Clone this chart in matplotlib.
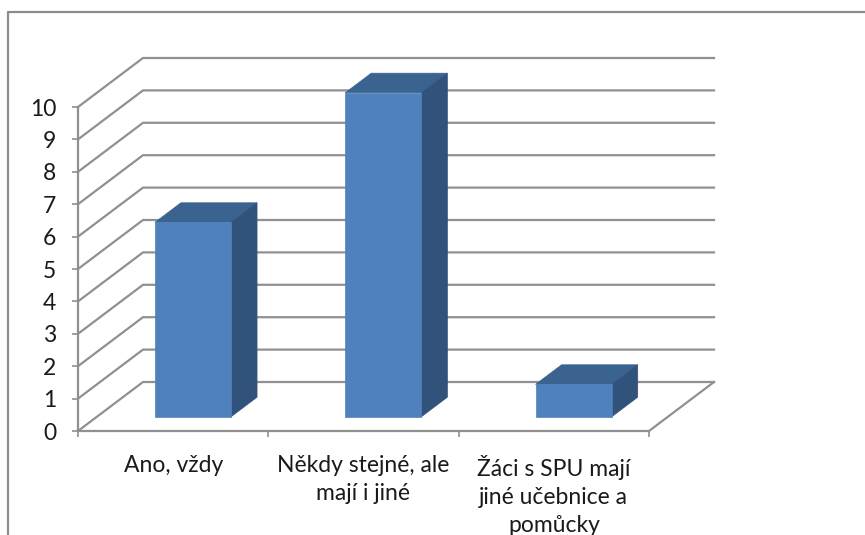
import matplotlib

matplotlib.use("Agg")
import matplotlib.pyplot as plt
from matplotlib.patches import Polygon

CATEGORIES = ["Ano, vždy", "Někdy stejné, ale\nmají i jiné", "Žáci s SPU mají\njiné učebnice a\npomůcky"]
VALUES = [6, 10, 1]
Y_TICKS = list(range(0, 11))

W, H = 865, 535
LEFT, RIGHT, BOTTOM, TOP = 78, 649, 431, 107
GRID = "#909090"
FRONT, ROOF, SIDE = "#4f81bd", "#3b6390", "#30527b"

# how far the back wall sits from the front plane, in data units
DEPTH_X = 65 / (RIGHT - LEFT) * len(VALUES)
DEPTH_Y = 49 / (BOTTOM - TOP) * Y_TICKS[-1]
BAR_WIDTH = 0.4
BAR_SHIFT = 0.005
BAR_NEAR, BAR_FAR = 0.29, 0.69


def project(x, y, depth):
    return (x + depth * DEPTH_X, y + depth * DEPTH_Y)


def draw_walls(ax):
    n = len(VALUES)
    line = dict(color=GRID, linewidth=1.6, clip_on=False, solid_joinstyle="miter")
    for v in Y_TICKS:
        xs, ys = zip(project(0, v, 0), project(0, v, 1), project(n, v, 1))
        ax.plot(xs, ys, zorder=1, **line)
    xs, ys = zip(project(n, 0, 1), project(n, 0, 0))
    ax.plot(xs, ys, zorder=1, **line)


def draw_bars(ax):
    for i, value in enumerate(VALUES):
        x0 = i + 0.5 + BAR_SHIFT - BAR_WIDTH / 2
        x1 = i + 0.5 + BAR_SHIFT + BAR_WIDTH / 2
        faces = [
            (ROOF, [project(x0, value, BAR_NEAR), project(x1, value, BAR_NEAR),
                    project(x1, value, BAR_FAR), project(x0, value, BAR_FAR)]),
            (SIDE, [project(x1, 0, BAR_NEAR), project(x1, 0, BAR_FAR),
                    project(x1, value, BAR_FAR), project(x1, value, BAR_NEAR)]),
            (FRONT, [project(x0, 0, BAR_NEAR), project(x1, 0, BAR_NEAR),
                     project(x1, value, BAR_NEAR), project(x0, value, BAR_NEAR)]),
        ]
        for color, pts in faces:
            ax.add_patch(Polygon(pts, closed=True, facecolor=color, edgecolor=color,
                                 linewidth=0.5, clip_on=False, zorder=3))


def main():
    plt.rcParams["font.family"] = ["Lato", "DejaVu Sans"]
    fig = plt.figure(figsize=(W / 100, H / 100), dpi=100)

    # outer chart frame, cut off by the image on the right and bottom
    fig.add_artist(plt.Line2D([8 / W, 8 / W, 1], [0, 1 - 12 / H, 1 - 12 / H], color="#8c8c8c", linewidth=1.6))

    ax = fig.add_axes([LEFT / W, 1 - BOTTOM / H, (RIGHT - LEFT) / W, (BOTTOM - TOP) / H])
    ax.set_xlim(0, len(VALUES))
    ax.set_ylim(Y_TICKS[0], Y_TICKS[-1])
    ax.patch.set_visible(False)
    for side in ("top", "right"):
        ax.spines[side].set_visible(False)
    for side in ("left", "bottom"):
        ax.spines[side].set_color(GRID)
        ax.spines[side].set_linewidth(1.6)

    ax.set_yticks(Y_TICKS)
    ax.set_xticks(range(len(VALUES) + 1))
    ax.set_xticklabels([])
    ax.tick_params(axis="both", length=4.5, width=1.2, color=GRID)
    ax.tick_params(axis="y", labelsize=16.5, labelcolor="#1a1a1a", pad=11)

    # category labels sit between the ticks
    ax.set_xticks([i + 0.5 for i in range(len(VALUES))], minor=True)
    ax.set_xticklabels(CATEGORIES, minor=True, fontsize=16.5, color="#1a1a1a", linespacing=1.42)
    ax.tick_params(axis="x", which="minor", length=0, pad=17)

    draw_walls(ax)
    draw_bars(ax)

    fig.savefig("out.png", dpi=100)
    plt.close(fig)


if __name__ == "__main__":
    main()
